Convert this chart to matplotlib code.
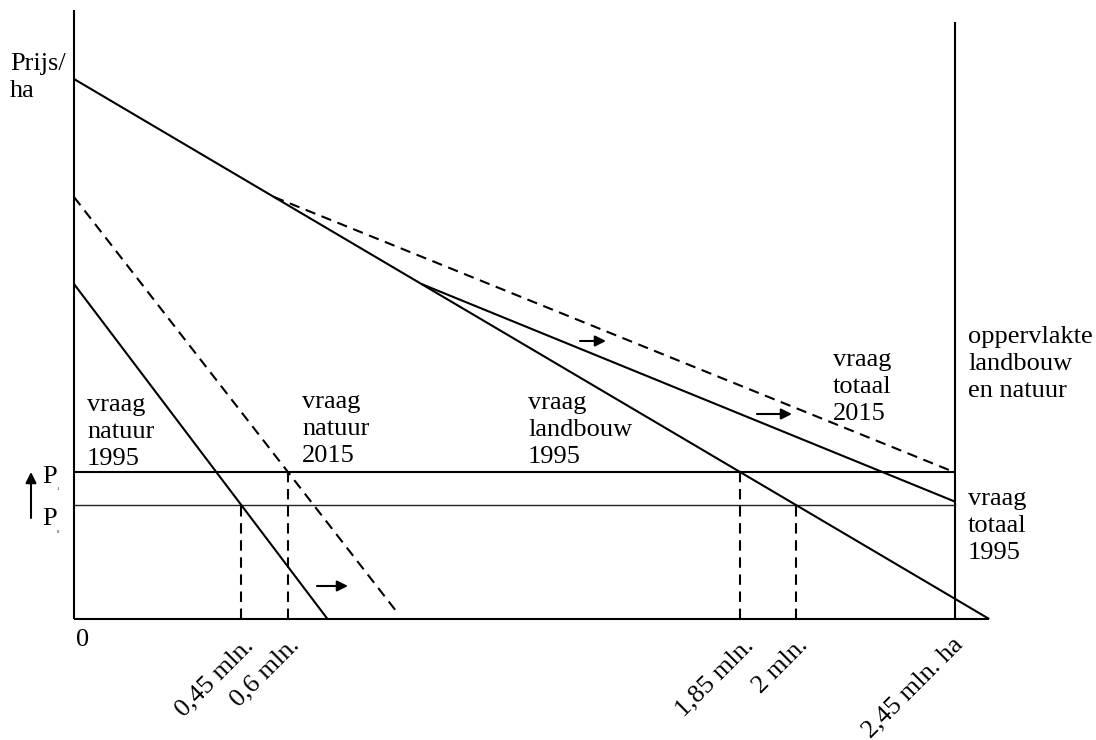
import matplotlib
matplotlib.use("Agg")
import matplotlib.pyplot as plt
import numpy as np

# ---- data (quantities in mln. ha, price in arbitrary units) ----
price_p0 = 1.14
price_p1 = 1.47
# (price intercept, quantity intercept) of each linear demand curve
natuur_1995 = (3.35, 0.705)
natuur_2015 = (4.22, 0.913)
landbouw_1995 = (5.40, 2.545)
total_area = 2.45
tick_labels = ["0,45 mln.", "0,6 mln.", "1,85 mln.", "2 mln.", "2,45 mln. ha"]

plt.rcParams['font.family'] = ['Liberation Serif', 'DejaVu Serif']
FS = 19

W, H = 1096, 740
fig = plt.figure(figsize=(W / 100, H / 100), dpi=100)
AX_L, AX_R, AX_B, AX_T = 74, 1000, 619, 10
XS = 359.6   # px per mln ha
YS = 100.0   # px per price unit
ax = fig.add_axes([AX_L / W, (H - AX_B) / H, (AX_R - AX_L) / W, (AX_B - AX_T) / H])
ax.set_xlim(0, (AX_R - AX_L) / XS)
ax.set_ylim(0, (AX_B - AX_T) / YS)
ax.axis('off')


def P(px, py):
    return ((px - AX_L) / XS, (AX_B - py) / YS)


def q(curve, p):
    pi, qi = curve
    return qi * (1 - p / pi) if p < pi else 0.0


LW = 1.5
DASH = (0, (5, 3.2))
k = dict(color='black', lw=LW, solid_capstyle='butt', clip_on=False)

# axes
ax.plot([0, 0], [0, P(0, 10)[1]], **k)
ax.plot([0, landbouw_1995[1]], [0, 0], **k)
ax.plot([total_area, total_area], [0, P(0, 22)[1]], **k)

# price lines
ax.plot([0, total_area], [price_p1, price_p1], **k)
ax.plot([0, total_area], [price_p0, price_p0], color='#222222', lw=1.0)

# demand natuur
ax.plot([0, natuur_1995[1]], [natuur_1995[0], 0], **k)
ax.plot([0, q(natuur_2015, 0.05)], [natuur_2015[0], 0.05], color='black', lw=LW, ls=DASH)
# demand landbouw
ax.plot([0, landbouw_1995[1]], [landbouw_1995[0], 0], **k)


def total_line(nat):
    p_start = nat[0]
    q_start = q(landbouw_1995, p_start)
    # price where summed demand equals total area
    a = nat[1] + landbouw_1995[1]
    b = nat[1] / nat[0] + landbouw_1995[1] / landbouw_1995[0]
    p_end = (a - total_area) / b
    return [q_start, total_area], [p_start, p_end]


xs, ys = total_line(natuur_1995)
ax.plot(xs, ys, **k)
xs, ys = total_line(natuur_2015)
ax.plot(xs, ys, color='black', lw=LW, ls=DASH)

# vertical dashed lines at quantities demanded
qvals = [q(natuur_1995, price_p0), q(natuur_2015, price_p1),
         q(landbouw_1995, price_p1), q(landbouw_1995, price_p0)]
pvals = [price_p0, price_p1, price_p1, price_p0]
for xv, pv in zip(qvals, pvals):
    ax.plot([xv, xv], [0, pv], color='black', lw=LW, ls=DASH)

# tick labels
offsets = [(12, -11), (11, -11), (13, -11), (12, -11), (9, -10)]
for xv, lab, off in zip(qvals + [total_area], tick_labels, offsets):
    ax.annotate(lab, xy=(xv, 0), xytext=off, textcoords='offset points',
                rotation=45, ha='right', va='top', fontsize=FS, annotation_clip=False)
ax.annotate("0", xy=(0, 0), xytext=(1.5, -7), textcoords='offset points',
            ha='left', va='top', fontsize=FS, annotation_clip=False)

# arrows
arrow_kw = dict(arrowstyle='-|>', color='black', lw=1.5, mutation_scale=16, shrinkA=0, shrinkB=0)
for (x0, y0, x1, y1) in [(317, 586, 348, 586), (580, 341, 606, 341), (757, 414, 792, 414)]:
    ax.annotate("", xy=P(x1, y1), xytext=P(x0, y0), arrowprops=arrow_kw, annotation_clip=False)
ax.annotate("", xy=P(31, 472), xytext=P(31, 518), arrowprops=arrow_kw, annotation_clip=False)

# price labels
ax.text(*P(42, 483), "P", fontsize=FS, ha='left', va='baseline', clip_on=False)
ax.text(*P(57, 490), "1", fontsize=3.5, ha='left', va='baseline', clip_on=False)
ax.text(*P(42, 525), "P", fontsize=FS, ha='left', va='baseline', clip_on=False)
ax.text(*P(57, 533), "0", fontsize=3.5, ha='left', va='baseline', clip_on=False)

# labels (position = left edge, baseline of last line)
LS = 1.3
labels = [
    (10, 97, "Prijs/\nha"),
    (87, 465, "vraag\nnatuur\n1995"),
    (302, 462, "vraag\nnatuur\n2015"),
    (528, 463, "vraag\nlandbouw\n1995"),
    (833, 420, "vraag\ntotaal\n2015"),
    (968, 397, "oppervlakte\nlandbouw\nen natuur"),
    (968, 559, "vraag\ntotaal\n1995"),
]
for px, py, t in labels:
    ax.text(*P(px, py), t, fontsize=FS, ha='left', va='baseline', linespacing=LS, clip_on=False)

fig.savefig("out.png", dpi=100)
